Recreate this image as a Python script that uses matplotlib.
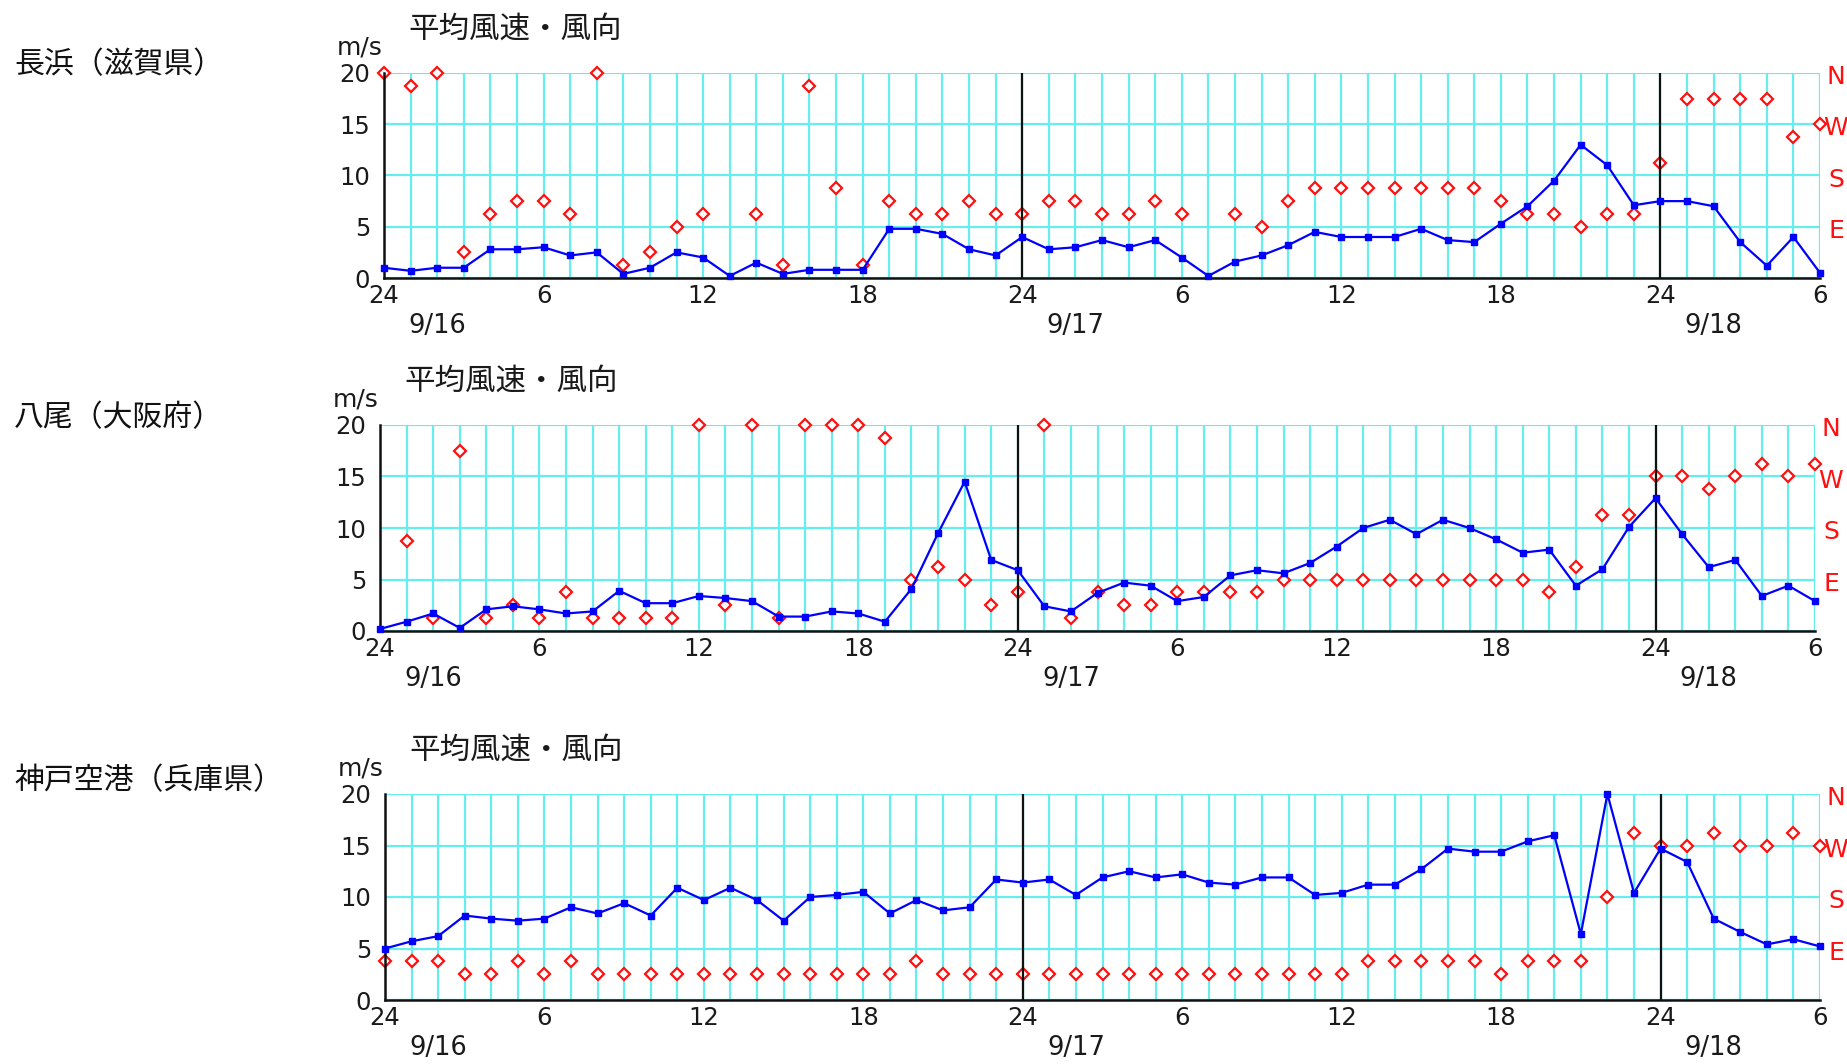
import numpy as np
import matplotlib
matplotlib.use('Agg')
import matplotlib.pyplot as plt

plt.rcParams['font.family'] = ['DejaVu Sans', 'Noto Sans CJK JP']
JP = ['Noto Sans CJK JP', 'DejaVu Sans']

# hours since 9/16 00:00 (0..54)
hours = list(range(55))
tick_hours = [0, 6, 12, 18, 24, 30, 36, 42, 48, 54]
tick_labels = ['24', '6', '12', '18', '24', '6', '12', '18', '24', '6']
day_labels = ['9/16', '9/17', '9/18']
day_pos = [2, 26, 50]
day_lines = [24, 48]
stations = ['長浜（滋賀県）', '八尾（大阪府）', '神戸空港（兵庫県）']

# 16-point compass, drawn on the speed axis: E=5, S=10, W=15, N=20
compass = ['NNE', 'NE', 'ENE', 'E', 'ESE', 'SE', 'SSE', 'S',
           'SSW', 'SW', 'WSW', 'W', 'WNW', 'NW', 'NNW', 'N']
dir_value = {d: 1.25 * (i + 1) for i, d in enumerate(compass)}

speed_nagahama = [1.0, 0.7, 1.0, 1.0, 2.8, 2.8, 3.0, 2.2, 2.5, 0.4, 1.0, 2.5, 2.0, 0.2, 1.5, 0.4, 0.8, 0.8, 0.8,
                  4.8, 4.8, 4.3, 2.8, 2.2, 4.0, 2.8, 3.0, 3.7, 3.0, 3.7, 2.0, 0.2, 1.6, 2.2, 3.2, 4.5,
                  4.0, 4.0, 4.0, 4.8, 3.7, 3.5, 5.3, 7.0, 9.5, 13.0, 11.0, 7.1, 7.5, 7.5, 7.0, 3.5, 1.2, 4.0, 0.5]
dir_nagahama = ['N', 'NNW', 'N', 'NE', 'ESE', 'SE', 'SE', 'ESE', 'N', 'NNE', 'NE', 'E', 'ESE', None, 'ESE', 'NNE',
                'NNW', 'SSE', 'NNE',
                'SE', 'ESE', 'ESE', 'SE', 'ESE', 'ESE', 'SE', 'SE', 'ESE', 'ESE', 'SE', 'ESE', None, 'ESE', 'E',
                'SE', 'SSE',
                'SSE', 'SSE', 'SSE', 'SSE', 'SSE', 'SSE', 'SE', 'ESE', 'ESE', 'E', 'ESE', 'ESE', 'SSW', 'NW', 'NW',
                'NW', 'NW', 'WSW', 'W']

speed_yao = [0.2, 0.9, 1.7, 0.3, 2.1, 2.4, 2.1, 1.7, 1.9, 3.9, 2.7, 2.7, 3.4, 3.2, 2.9, 1.4, 1.4, 1.9, 1.7,
             0.9, 4.1, 9.5, 14.5, 6.9, 5.9, 2.4, 1.9, 3.7, 4.7, 4.4, 2.9, 3.3, 5.4, 5.9, 5.6, 6.6, 8.2,
             10.0, 10.8, 9.4, 10.8, 10.0, 8.9, 7.6, 7.9, 4.4, 6.0, 10.1, 12.9, 9.4, 6.2, 6.9, 3.4, 4.4, 2.9]
dir_yao = [None, 'SSE', 'NNE', 'NW', 'NNE', 'NE', 'NNE', 'ENE', 'NNE', 'NNE', 'NNE', 'NNE', 'N', 'NE', 'N', 'NNE',
           'N', 'N', 'N',
           'NNW', 'E', 'ESE', 'E', 'NE', 'ENE', 'N', 'NNE', 'ENE', 'NE', 'NE', 'ENE', 'ENE', 'ENE', 'ENE', 'E',
           'E', 'E',
           'E', 'E', 'E', 'E', 'E', 'E', 'E', 'ENE', 'ESE', 'SSW', 'SSW', 'W', 'W', 'WSW', 'W', 'WNW', 'W', 'WNW']

speed_kobe = [5.0, 5.7, 6.2, 8.2, 7.9, 7.7, 7.9, 9.0, 8.4, 9.4, 8.2, 10.9, 9.7, 10.9, 9.7, 7.7, 10.0, 10.2, 10.5,
              8.4, 9.7, 8.7, 9.0, 11.7, 11.4, 11.7, 10.2, 11.9, 12.5, 11.9, 12.2, 11.4, 11.2, 11.9, 11.9, 10.2,
              10.4, 11.2, 11.2, 12.7, 14.7, 14.4, 14.4, 15.4, 16.0, 6.4, 20.0, 10.4, 14.7, 13.4, 7.9, 6.6, 5.4,
              5.9, 5.2]
dir_kobe = ['ENE', 'ENE', 'ENE', 'NE', 'NE', 'ENE', 'NE', 'ENE', 'NE', 'NE', 'NE', 'NE', 'NE', 'NE', 'NE', 'NE',
            'NE', 'NE', 'NE',
            'NE', 'ENE', 'NE', 'NE', 'NE', 'NE', 'NE', 'NE', 'NE', 'NE', 'NE', 'NE', 'NE', 'NE', 'NE', 'NE', 'NE',
            'NE', 'ENE', 'ENE', 'ENE', 'ENE', 'ENE', 'NE', 'ENE', 'ENE', 'ENE', 'S', 'WNW', 'W', 'W', 'WNW', 'W',
            'W', 'WNW', 'W']

GRID = '#66EEEE'
RED = '#FF1010'
BLUE = '#0000FF'
INK = '#1a1a1a'

fig = plt.figure(figsize=(18.47, 10.64), dpi=100)
W, H = 1847, 1064
rects = [(384, 73, 1820, 278), (380, 425, 1815, 631), (385, 794, 1820, 1000)]
label_y = [65, 418, 781]
panels = [(speed_nagahama, dir_nagahama), (speed_yao, dir_yao), (speed_kobe, dir_kobe)]

for (l, t, r, b), ly, name, (spd, dirs) in zip(rects, label_y, stations, panels):
    ax = fig.add_axes([l / W, 1 - b / H, (r - l) / W, (b - t) / H])
    ax.set_xlim(0, 54)
    ax.set_ylim(0, 20)
    ax.set_xticks(tick_hours)
    ax.set_xticklabels(tick_labels)
    ax.set_xticks(hours, minor=True)
    ax.set_yticks([0, 5, 10, 15, 20])
    ax.grid(True, which='both', color=GRID, lw=1.6, zorder=0)
    ax.set_axisbelow(True)
    ax.tick_params(axis='both', which='both', length=0, labelsize=17.5, colors=INK)
    ax.tick_params(axis='x', pad=4)
    ax.tick_params(axis='y', pad=10)
    for s in ['top', 'right']:
        ax.spines[s].set_visible(False)
    for s in ['left', 'bottom']:
        ax.spines[s].set_linewidth(1.8)
        ax.spines[s].set_color('#111111')
        ax.spines[s].set_zorder(4)

    dv = [dir_value[d] if d else np.nan for d in dirs]
    ax.plot(hours, dv, ls='none', marker='D', ms=6, mfc='white', mec=RED, mew=1.6,
            clip_on=False, zorder=3)
    for x in day_lines:
        ax.axvline(x, color='#111111', lw=1.6, zorder=4)
    ax.plot(hours, spd, color=BLUE, lw=1.6, marker='s', ms=4.5, clip_on=False, zorder=5)

    for x, s in zip(day_pos, day_labels):
        ax.text(x, -0.235, s, transform=ax.get_xaxis_transform(), ha='center', va='center',
                fontsize=18.5, color=INK)
    for v, s in zip([20, 15, 10, 5], ['N', 'W', 'S', 'E']):
        ax.text(54.6, v - 0.4, s, ha='center', va='center', fontsize=18, color=RED, clip_on=False)
    ax.text(0.017, 1.215, '平均風速・風向', transform=ax.transAxes, ha='left', va='center',
            fontsize=22, family=JP, color=INK)
    ax.text(-0.017, 1.125, 'm/s', transform=ax.transAxes, ha='center', va='center',
            fontsize=18, color=INK)
    fig.text(14 / W, 1 - ly / H, name, ha='left', va='center', fontsize=21.5, family=JP, color='#111111')

fig.savefig('out.png', dpi=100, facecolor='white')
